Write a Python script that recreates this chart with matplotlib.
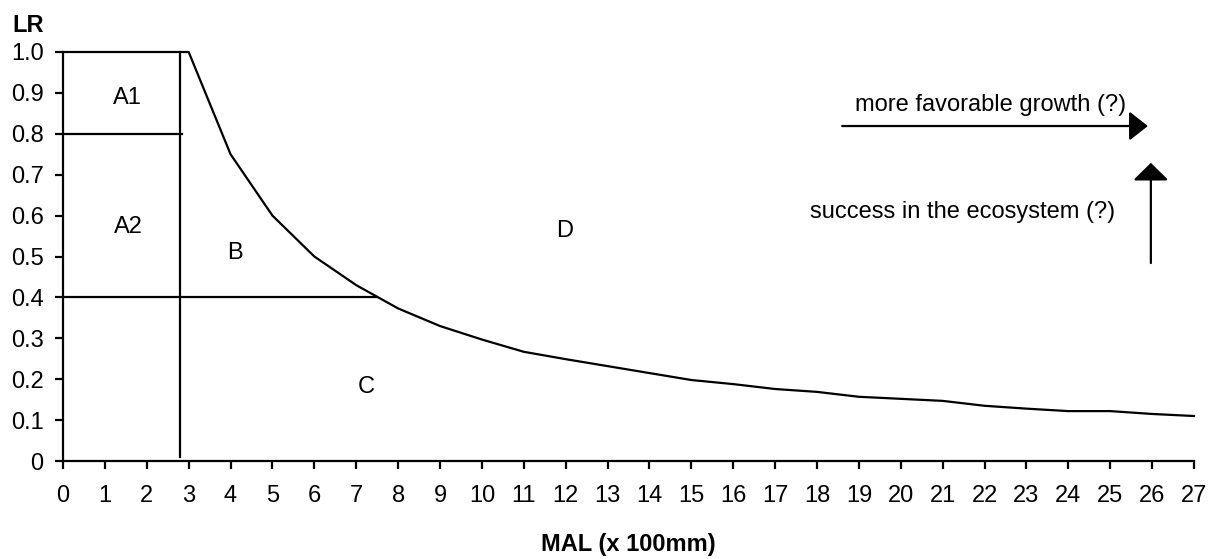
import numpy as np
import matplotlib
matplotlib.use('Agg')
import matplotlib.pyplot as plt

plt.rcParams['font.family'] = ['Liberation Sans', 'DejaVu Sans']

# data
mal = list(range(0, 28))
lr = [1.0, 1.0, 1.0, 1.0, 0.75, 0.60, 0.50, 0.43, 0.373, 0.33, 0.297, 0.267,
      0.249, 0.232, 0.215, 0.198, 0.188, 0.176, 0.169, 0.157, 0.152, 0.147,
      0.135, 0.128, 0.122, 0.122, 0.115, 0.110]

# region boundaries (x0, x1, y0, y1)
boundaries = [(2.79, 2.79, 0.01, 1.0),
              (0.0, 2.84, 0.8, 0.8),
              (0.0, 7.5, 0.4, 0.4)]

# region labels
region_names = ['A1', 'A2', 'B', 'C', 'D']
region_x = [1.53, 1.55, 4.1, 7.23, 11.98]
region_y = [0.887, 0.572, 0.508, 0.181, 0.562]

ytick_labels = ['0', '0.1', '0.2', '0.3', '0.4', '0.5', '0.6', '0.7', '0.8', '0.9', '1.0']

fs = 17

fig = plt.figure(figsize=(12.14, 5.59), dpi=100)
ax = fig.add_axes([63 / 1214, 1 - 461 / 559, (1194 - 63) / 1214, (461 - 52) / 559])

ax.plot(mal, lr, color='black', lw=1.6, solid_joinstyle='round', clip_on=False)
for x0, x1, y0, y1 in boundaries:
    ax.plot([x0, x1], [y0, y1], color='black', lw=1.6, clip_on=False)

for name, x, y in zip(region_names, region_x, region_y):
    ax.text(x, y, name, ha='center', va='center', fontsize=fs)

# arrows
ax.annotate('', xy=(25.9, 0.819), xytext=(18.6, 0.819),
            arrowprops=dict(arrowstyle='-|>,head_length=11.5,head_width=9',
                            mutation_scale=1, color='black', lw=1.6,
                            shrinkA=0, shrinkB=0))
ax.annotate('', xy=(25.97, 0.729), xytext=(25.97, 0.484),
            arrowprops=dict(arrowstyle='-|>,head_length=10.8,head_width=11',
                            mutation_scale=1, color='black', lw=1.6,
                            shrinkA=0, shrinkB=0))
ax.text(22.15, 0.870, 'more favorable growth (?)', ha='center', va='center', fontsize=fs)
ax.text(21.48, 0.609, 'success in the ecosystem (?)', ha='center', va='center', fontsize=fs)

ax.set_xlim(0, 27)
ax.set_ylim(0, 1.0)
ax.set_xticks(mal)
ax.set_yticks(np.arange(0, 1.01, 0.1))
ax.set_yticklabels(ytick_labels)
ax.tick_params(axis='both', labelsize=fs, width=1.6, length=6, direction='out')
ax.tick_params(axis='x', pad=11)
ax.tick_params(axis='y', pad=8)
for s in ['top', 'right']:
    ax.spines[s].set_visible(False)
for s in ['left', 'bottom']:
    ax.spines[s].set_linewidth(1.6)

fig.text(28.5 / 1214, 1 - 25 / 559, 'LR', ha='center', va='center', fontsize=fs, fontweight='bold')
fig.text(628 / 1214, 1 - 545 / 559, 'MAL (x 100mm)', ha='center', va='center', fontsize=fs, fontweight='bold')

fig.savefig('out.png', dpi=100)
